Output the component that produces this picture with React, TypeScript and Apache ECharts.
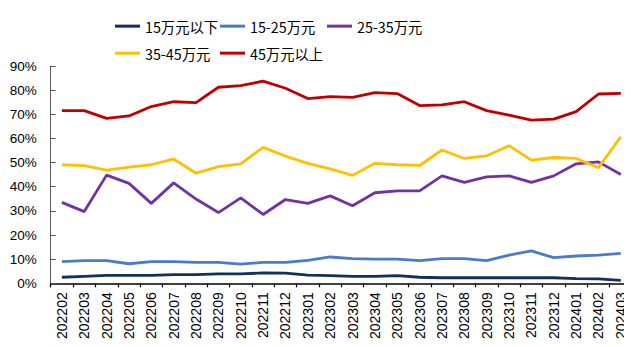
import React, { useEffect, useRef } from "react";
import * as echarts from "echarts";

// Monthly share of sales by price band (%)
const months = [
  "202202", "202203", "202204", "202205", "202206", "202207", "202208", "202209",
  "202210", "202211", "202212", "202301", "202302", "202303", "202304", "202305",
  "202306", "202307", "202308", "202309", "202310", "202311", "202312", "202401",
  "202402", "202403",
];

const seriesNames = ["15万元以下", "15-25万元", "25-35万元", "35-45万元", "45万元以上"];

const below15 = [
  2.5, 2.9, 3.3, 3.3, 3.3, 3.6, 3.6, 3.9, 3.9, 4.3, 4.2, 3.4, 3.2, 2.9, 2.9, 3.2,
  2.5, 2.3, 2.3, 2.3, 2.3, 2.3, 2.3, 1.9, 1.8, 1.2,
];
const from15to25 = [
  9.0, 9.4, 9.4, 8.1, 9.0, 9.0, 8.7, 8.7, 7.9, 8.7, 8.7, 9.5, 10.9, 10.2, 10.0, 10.0,
  9.4, 10.2, 10.2, 9.4, 11.7, 13.4, 10.6, 11.3, 11.7, 12.4,
];
const from25to35 = [
  33.5, 29.7, 44.8, 41.4, 33.1, 41.6, 34.9, 29.3, 35.4, 28.5, 34.7, 33.1, 36.2, 32.1, 37.5, 38.3,
  38.3, 44.5, 41.8, 44.1, 44.5, 41.8, 44.5, 49.5, 50.3, 45.1,
];
const from35to45 = [
  49.1, 48.7, 46.9, 48.1, 49.1, 51.5, 45.6, 48.3, 49.5, 56.3, 52.7, 49.7, 47.4, 44.7, 49.7, 49.1,
  48.8, 55.2, 51.7, 52.8, 57.0, 51.0, 52.1, 51.7, 47.9, 60.7,
];
const above45 = [
  71.5, 71.5, 68.3, 69.3, 73.2, 75.2, 74.8, 81.2, 81.9, 83.7, 80.8, 76.5, 77.3, 77.0, 79.0, 78.6,
  73.6, 73.9, 75.2, 71.5, 69.7, 67.6, 68.0, 71.1, 78.4, 78.7,
];

const seriesValues = [below15, from15to25, from25to35, from35to45, above45];
const colors = ["#13305A", "#4A7BC8", "#7033A3", "#FFC000", "#C00000"];

const numFont = "'Liberation Sans', Arial, 'Noto Sans CJK SC', sans-serif";
const cjkFont = "'Noto Sans CJK SC', 'Liberation Sans', sans-serif";

// legend slots: [left, top] per series, laid out in two rows
const legendSlots: [number, number][] = [
  [115, 19],
  [220, 19],
  [327, 19],
  [115, 46],
  [220, 46],
];

export default function App() {
  const ref = useRef<HTMLDivElement>(null);

  useEffect(() => {
    if (!ref.current) return;
    const chart = echarts.init(ref.current, null, { renderer: "svg" });

    const legends = seriesNames.map((name, i) => ({
      data: [name],
      left: legendSlots[i][0],
      top: legendSlots[i][1],
      padding: 0,
      icon: "rect",
      itemWidth: 25,
      itemHeight: 3,
      textStyle: { fontSize: 14.3, color: "#000", fontFamily: cjkFont },
    }));

    chart.setOption({
      animation: false,
      color: colors,
      legend: legends,
      grid: { left: 50.7, top: 66, width: 585.6, height: 217.3, containLabel: false },
      xAxis: {
        type: "category",
        data: months,
        boundaryGap: true,
        axisLine: { show: true, lineStyle: { color: "#000", width: 1.5 } },
        axisTick: { show: true, length: 4, lineStyle: { color: "#000", width: 1.2 } },
        axisLabel: {
          rotate: 90,
          interval: 0,
          margin: 9,
          fontSize: 14,
          color: "#000",
          fontFamily: numFont,
        },
      },
      yAxis: {
        type: "value",
        min: 0,
        max: 90,
        interval: 10,
        splitLine: { show: false },
        axisLine: { show: true, lineStyle: { color: "#595959", width: 1 } },
        axisTick: { show: true, inside: true, length: 5, lineStyle: { color: "#595959" } },
        axisLabel: {
          formatter: "{value}%",
          margin: 14,
          fontSize: 13.5,
          color: "#000",
          fontFamily: numFont,
        },
      },
      series: seriesNames.map((name, i) => ({
        name,
        type: "line",
        data: seriesValues[i],
        symbol: "none",
        lineStyle: { width: 2.8, color: colors[i] },
        itemStyle: { color: colors[i] },
      })),
    });

    return () => chart.dispose();
  }, []);

  return <div ref={ref} style={{ width: 632, height: 347, margin: -8 }} />;
}
